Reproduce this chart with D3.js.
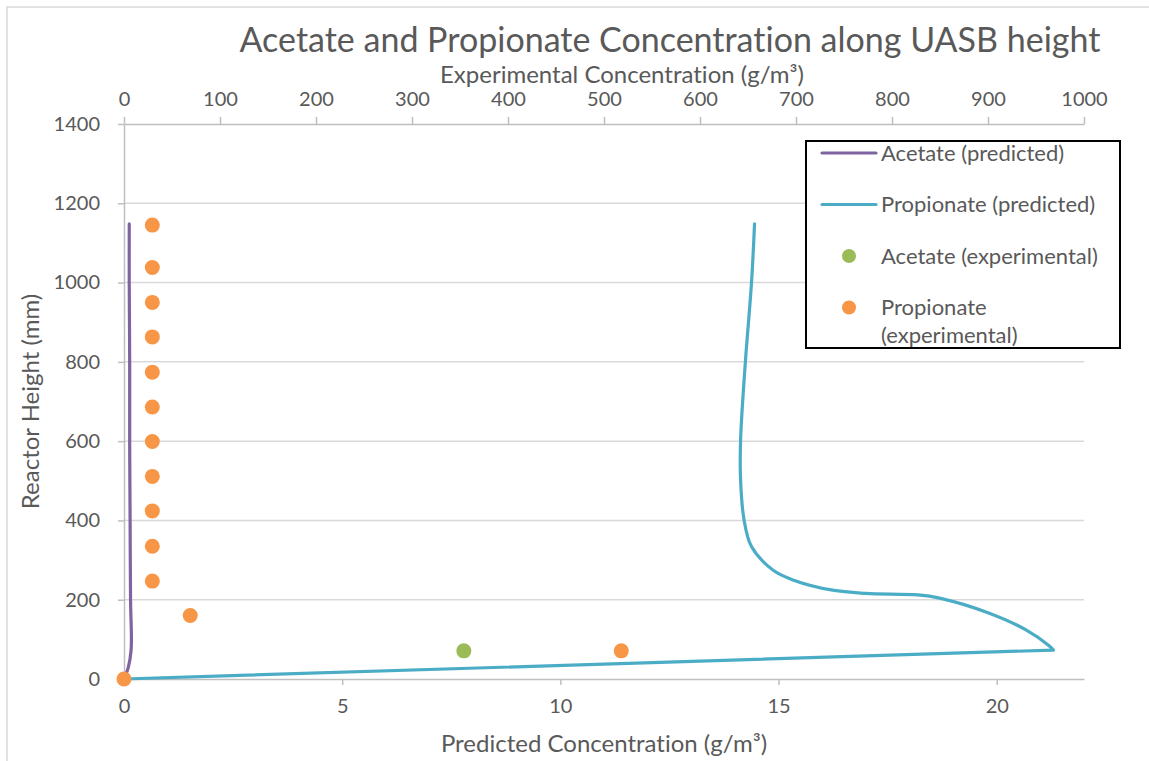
<!DOCTYPE html>
<meta charset="utf-8">
<script src="https://d3js.org/d3.v7.min.js"></script>
<style>
  body { margin: 0; background: #fff; }
  text { font-family: Lato, "Open Sans", sans-serif; fill: #595959; font-variant-ligatures: none; }
</style>
<div id="chart"></div>
<script>

// predicted profiles: [concentration g/m3 (bottom axis), height mm]
var acetatePredicted = [
  [0, 0], [0.10, 30], [0.16, 70], [0.17, 100], [0.15, 200],
  [0.14, 400], [0.13, 600], [0.13, 800], [0.12, 1000], [0.12, 1148]
];
var propionatePredicted = [
  [0, 0], [21.3, 73], [21.2, 84], [20.67, 124], [19.83, 166], [18.69, 204],
  [18.2, 212], [17.0, 216], [16.24, 224], [15.33, 250], [14.87, 275],
  [14.38, 334], [14.21, 401], [14.13, 502], [14.13, 603], [14.24, 800],
  [14.38, 999], [14.45, 1148]
];

// experimental values: [concentration g/m3 (top axis), height mm]
var acetateExperimental = [[354, 71]];
var propionateExperimental = [
  [0, 0], [518, 71], [69, 160], [29.5, 247], [29.5, 335], [29.5, 424],
  [29.5, 511], [29.5, 599], [29.5, 686], [29.5, 774], [29.5, 863],
  [29.5, 950], [29.5, 1038], [29.5, 1145]
];

var bottomTicks = [0, 5, 10, 15, 20];
var topTicks = [0, 100, 200, 300, 400, 500, 600, 700, 800, 900, 1000];
var yTicks = [0, 200, 400, 600, 800, 1000, 1200, 1400];

var legendItems = [
  {name: ["Acetate (predicted)"], color: "#8064A2", type: "line"},
  {name: ["Propionate (predicted)"], color: "#4BACC6", type: "line"},
  {name: ["Acetate (experimental)"], color: "#9BBB59", type: "dot"},
  {name: ["Propionate", "(experimental)"], color: "#F79646", type: "dot"}
];

var W = 1149, H = 761;
var plotLeft = 124, plotRight = 1084, plotTop = 124, plotBottom = 679;

var svg = d3.select("#chart").append("svg")
    .attr("width", W)
    .attr("height", H);

svg.append("rect")
    .attr("x", 7).attr("y", 7)
    .attr("width", 1200).attr("height", 800)
    .attr("fill", "#fff")
    .attr("stroke", "#d9d9d9")
    .attr("stroke-width", 1.5);

var xPred = d3.scaleLinear().domain([0, 22]).range([plotLeft, plotRight]);
var xExp = d3.scaleLinear().domain([0, 1000]).range([plotLeft, plotRight]);
var y = d3.scaleLinear().domain([0, 1400]).range([plotBottom, plotTop]);

// gridlines
svg.append("g")
  .selectAll("line")
  .data(yTicks.filter(function(d) { return d > 0 && d < 1400; }))
  .enter().append("line")
    .attr("x1", plotLeft).attr("x2", plotRight)
    .attr("y1", function(d) { return y(d); })
    .attr("y2", function(d) { return y(d); })
    .attr("stroke", "#d9d9d9")
    .attr("stroke-width", 1.5);

// axes
function styleAxis(g) {
  g.selectAll("path, line").attr("stroke", "#bfbfbf").attr("stroke-width", 1.5);
  g.selectAll("text")
    .style("font-size", "20px")
    .style("font-family", "Lato, 'Open Sans', sans-serif")
    .attr("fill", "#595959");
}

svg.append("g")
    .attr("transform", "translate(0," + plotBottom + ")")
    .call(d3.axisBottom(xPred).tickValues(bottomTicks).tickSize(6).tickSizeOuter(0).tickPadding(14))
    .call(styleAxis);

svg.append("g")
    .attr("transform", "translate(0," + plotTop + ")")
    .call(d3.axisTop(xExp).tickValues(topTicks).tickFormat(d3.format("d")).tickSize(7).tickSizeOuter(0).tickPadding(11))
    .call(styleAxis);

svg.append("g")
    .attr("transform", "translate(" + plotLeft + ",0)")
    .call(d3.axisLeft(y).tickValues(yTicks).tickFormat(d3.format("d")).tickSize(6).tickSizeOuter(0).tickPadding(18))
    .call(styleAxis);

// predicted lines
var smooth = d3.line()
    .x(function(d) { return xPred(d[0]); })
    .y(function(d) { return y(d[1]); })
    .curve(d3.curveCatmullRom.alpha(0.5));
var straight = d3.line()
    .x(function(d) { return xPred(d[0]); })
    .y(function(d) { return y(d[1]); });

// the long return from the origin to the peak is drawn straight, the rest smoothed
svg.append("path")
    .attr("d", straight(propionatePredicted.slice(0, 2)) + smooth(propionatePredicted.slice(1)))
    .attr("fill", "none")
    .attr("stroke", "#4BACC6")
    .attr("stroke-width", 3.2)
    .attr("stroke-linejoin", "round")
    .attr("stroke-linecap", "round");

svg.append("path")
    .datum(acetatePredicted)
    .attr("d", smooth)
    .attr("fill", "none")
    .attr("stroke", "#8064A2")
    .attr("stroke-width", 3.2)
    .attr("stroke-linecap", "round");

// experimental points
svg.append("g").selectAll("circle")
    .data(acetateExperimental)
    .enter().append("circle")
      .attr("cx", function(d) { return xExp(d[0]); })
      .attr("cy", function(d) { return y(d[1]); })
      .attr("r", 7.5)
      .attr("fill", "#9BBB59");

svg.append("g").selectAll("circle")
    .data(propionateExperimental)
    .enter().append("circle")
      .attr("cx", function(d) { return xExp(d[0]); })
      .attr("cy", function(d) { return y(d[1]); })
      .attr("r", 7.5)
      .attr("fill", "#F79646");

// titles
svg.append("text")
    .attr("x", 670).attr("y", 52)
    .attr("text-anchor", "middle")
    .style("font-size", "34px")
    .text("Acetate and Propionate Concentration along UASB height");

svg.append("text")
    .attr("x", 622).attr("y", 83)
    .attr("text-anchor", "middle")
    .style("font-size", "24px")
    .text("Experimental Concentration (g/m³)");

svg.append("text")
    .attr("x", 604).attr("y", 752)
    .attr("text-anchor", "middle")
    .style("font-size", "24px")
    .text("Predicted Concentration (g/m³)");

svg.append("text")
    .attr("transform", "translate(39," + ((plotTop + plotBottom) / 2) + ") rotate(-90)")
    .attr("text-anchor", "middle")
    .style("font-size", "24px")
    .text("Reactor Height (mm)");

// legend
var legend = svg.append("g").attr("transform", "translate(806,141)");
legend.append("rect")
    .attr("width", 314).attr("height", 207)
    .attr("fill", "#fff")
    .attr("stroke", "#000")
    .attr("stroke-width", 2);

var rows = legend.selectAll("g.item")
    .data(legendItems)
    .enter().append("g")
      .attr("class", "item")
      .attr("transform", function(d, i) { return "translate(0," + (12 + i * 51.5) + ")"; });

rows.filter(function(d) { return d.type === "line"; })
  .append("line")
    .attr("x1", 16).attr("x2", 70)
    .attr("stroke", function(d) { return d.color; })
    .attr("stroke-width", 3.2)
    .attr("stroke-linecap", "round");

rows.filter(function(d) { return d.type === "dot"; })
  .append("circle")
    .attr("cx", 43).attr("r", 7)
    .attr("fill", function(d) { return d.color; });

rows.each(function(d) {
  var t = d3.select(this).append("text")
      .attr("x", 75)
      .style("font-size", "22px");
  d.name.forEach(function(s, k) {
    t.append("tspan").attr("x", 75).attr("dy", k === 0 ? "0.35em" : "1.25em").text(s);
  });
});

</script>
